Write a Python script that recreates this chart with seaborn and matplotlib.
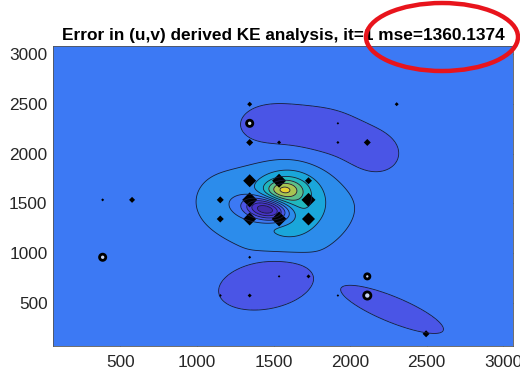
import numpy as np
import pandas as pd
import matplotlib
matplotlib.use("Agg")
import matplotlib.pyplot as plt
from matplotlib.patches import Ellipse
import seaborn as sns

# error field, described as a few blobs (data units)
blob_x = [1500, 1610, 1565, 1460, 1470, 1850, 2160, 1457, 2270]
blob_y = [1520, 1520, 1640, 1440, 2235, 2165, 1975, 700, 440]
blob_amp = [1.0, 2.4, 2.9, -6.5, -0.9, -0.9, -0.9, -1.4, -1.4]
blob_sx = [430, 155, 80, 110, 220, 200, 155, 240, 282]
blob_sy = [390, 250, 70, 75, 240, 230, 195, 175, 82]
blob_ang = [0, 0, 0, -24, 0, -10, 0, 28, -34]
blob_pow = [1, 1, 1, 1, 1, 1, 1, 2, 2]

levels = [-4.5, -3.5, -2.5, -1.5, -0.5, 0.5, 1.5, 2.5, 3.5, 4.5, 5.5, 6.5]
band_colors = ["#3F2BA8", "#4733C8", "#4A40DA", "#4A55E6", "#3C79F4", "#2C8CEB",
               "#1AA6DA", "#20B8BE", "#5CC08A", "#A8C452", "#E8D030"]

# observation points with marker diameter in pixels
obs_x = [1344, 2304, 1920, 1344, 1536, 1920, 2112, 1344, 1536, 1728, 384, 576,
         1152, 1344, 1728, 1152, 1344, 1536, 1728, 1344, 1536, 1728, 1152, 1344,
         1920, 2496]
obs_y = [2496, 2496, 2304, 2112, 2112, 2112, 2112, 1728, 1728, 1728, 1536, 1536,
         1536, 1536, 1536, 1344, 1344, 1344, 1344, 960, 768, 768, 576, 576,
         576, 192]
obs_d = [5, 4, 2.5, 7, 4, 3, 7, 13, 14, 7, 3, 6,
         7, 15, 14, 7, 13, 15, 13, 3, 2.5, 4, 3, 4,
         2.5, 7]
ring_x = [1344, 384, 2112, 2112]
ring_y = [2304, 960, 768, 576]
ring_d = [9, 9, 8, 10]

title = "Error in (u,v) derived KE analysis, it=1 mse=1360.1374"

sns.set_theme(style="white")
plt.rcParams["font.family"] = ["Liberation Sans", "DejaVu Sans"]

fig = plt.figure(figsize=(5.2, 3.74), dpi=100)
ax = fig.add_axes([0.102, 0.075, 0.885, 0.802])

gx = np.linspace(60, 3065, 320)
gy = np.linspace(70, 3080, 320)
X, Y = np.meshgrid(gx, gy)
Z = np.zeros_like(X)
for bx, by, a, sx, sy, ang, p in zip(blob_x, blob_y, blob_amp, blob_sx,
                                     blob_sy, blob_ang, blob_pow):
    t = np.deg2rad(ang)
    u = (X - bx) * np.cos(t) + (Y - by) * np.sin(t)
    v = -(X - bx) * np.sin(t) + (Y - by) * np.cos(t)
    Z += a * np.exp(-(u**2 / (2 * sx**2) + v**2 / (2 * sy**2)) ** p)

ax.contourf(X, Y, Z, levels=levels, colors=band_colors, extend="both")
ax.contour(X, Y, Z, levels=levels[1:-1], colors="#1a1a3a", linewidths=0.6,
           linestyles="solid")

pts = pd.DataFrame({"x": obs_x, "y": obs_y,
                    "area": [(d / 1.414 * 0.72) ** 2 for d in obs_d]})
sns.scatterplot(data=pts, x="x", y="y", size="area",
                sizes=(pts["area"].min(), pts["area"].max()),
                marker="D", color="black", linewidth=0, legend=False, ax=ax)
rings = pd.DataFrame({"x": ring_x, "y": ring_y,
                      "area": [((d - 2.8) * 0.72) ** 2 for d in ring_d]})
sns.scatterplot(data=rings, x="x", y="y", size="area",
                sizes=(rings["area"].min(), rings["area"].max()),
                marker="o", facecolor="#c8d4f0", edgecolor="black",
                linewidth=2.0, legend=False, ax=ax)

ax.set_xlim(60, 3065)
ax.set_ylim(70, 3080)
ax.set_xticks([500, 1000, 1500, 2000, 2500, 3000])
ax.set_yticks([500, 1000, 1500, 2000, 2500, 3000])
ax.set_xlabel("")
ax.set_ylabel("")
ax.tick_params(direction="in", length=3, width=0.5, colors="#262626",
               labelsize=12.4, top=True, right=True, bottom=True, left=True)
ax.tick_params(axis="x", pad=6.5)
ax.tick_params(axis="y", pad=4)
for sp in ax.spines.values():
    sp.set_color("#555555")
    sp.set_linewidth(0.6)
ax.set_title(title, fontsize=12.4, fontweight="bold", color="black", pad=4)

fig.patches.append(Ellipse((442 / 520, 1 - 37 / 374), 152 / 520, 68 / 374,
                           transform=fig.transFigure, facecolor="none",
                           edgecolor="#E8141C", linewidth=3.2))

fig.savefig("out.png", dpi=100)
